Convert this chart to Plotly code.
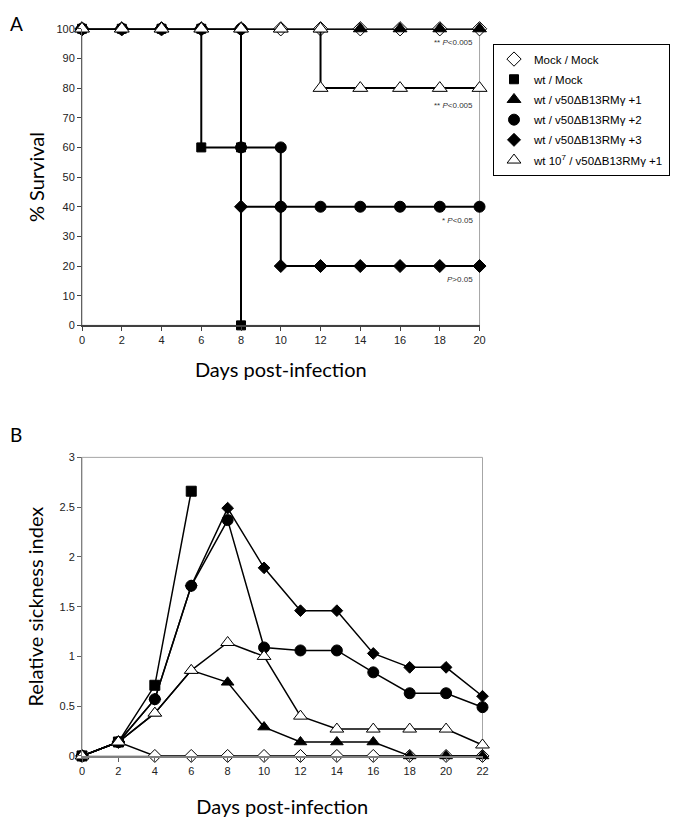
import plotly.graph_objects as go

# ---------------- data ----------------
series_names = [
    "Mock / Mock",
    "wt / Mock",
    "wt / v50ΔB13RMγ +1",
    "wt / v50ΔB13RMγ +2",
    "wt / v50ΔB13RMγ +3",
    "wt 10<sup>7</sup> / v50ΔB13RMγ +1",
]

# Panel A: % survival (step points listed explicitly)
surv_days_mock = [0, 2, 4, 6, 8, 10, 12, 14, 16, 18, 20]
surv_mock = [100, 100, 100, 100, 100, 100, 100, 100, 100, 100, 100]
surv_days_wtmock = [0, 2, 4, 6, 6, 8, 8]
surv_wtmock = [100, 100, 100, 100, 60, 60, 0]
surv_days_p1 = [0, 2, 4, 6, 8, 10, 12, 14, 16, 18, 20]
surv_p1 = [100, 100, 100, 100, 100, 100, 100, 100, 100, 100, 100]
surv_days_p2 = [0, 2, 4, 6, 8, 8, 10, 10, 12, 14, 16, 18, 20]
surv_p2 = [100, 100, 100, 100, 100, 60, 60, 40, 40, 40, 40, 40, 40]
surv_days_p3 = [0, 2, 4, 6, 8, 8, 10, 10, 12, 14, 16, 18, 20]
surv_p3 = [100, 100, 100, 100, 100, 40, 40, 20, 20, 20, 20, 20, 20]
surv_days_hi = [0, 2, 4, 6, 8, 10, 12, 12, 14, 16, 18, 20]
surv_hi = [100, 100, 100, 100, 100, 100, 100, 80, 80, 80, 80, 80]

pvalue_labels = ["** <i>P</i><0.005", "** <i>P</i><0.005", "* <i>P</i><0.05", "<i>P</i>>0.05"]
pvalue_y = [95.3, 74.1, 35.2, 15.6]

# Panel B: relative sickness index
sick_days = [0, 2, 4, 6, 8, 10, 12, 14, 16, 18, 20, 22]
sick_mock = [0, 0.14, 0, 0, 0, 0, 0, 0, 0, 0, 0, 0]
sick_days_wtmock = [0, 2, 4, 6]
sick_wtmock = [0, 0.14, 0.71, 2.66]
sick_p1 = [0, 0.14, 0.43, 0.86, 0.74, 0.29, 0.14, 0.14, 0.14, 0, 0, 0]
sick_p2 = [0, 0.14, 0.57, 1.71, 2.37, 1.09, 1.06, 1.06, 0.84, 0.63, 0.63, 0.49]
sick_p3 = [0, 0.14, 0.57, 1.71, 2.49, 1.89, 1.46, 1.46, 1.03, 0.89, 0.89, 0.60]
sick_hi = [0, 0.14, 0.43, 0.86, 1.14, 1.00, 0.40, 0.27, 0.27, 0.27, 0.27, 0.11]

surv_ticks = [0, 2, 4, 6, 8, 10, 12, 14, 16, 18, 20]
sick_ticks = [0, 2, 4, 6, 8, 10, 12, 14, 16, 18, 20, 22]

# ---------------- styles ----------------
styles = [
    dict(symbol="diamond", color="white", size=11, sizeB=10),
    dict(symbol="square", color="black", size=9, sizeB=10),
    dict(symbol="triangle-up", color="black", size=12, sizeB=11),
    dict(symbol="circle", color="black", size=11, sizeB=11),
    dict(symbol="diamond", color="black", size=10, sizeB=9),
    dict(symbol="triangle-up", color="white", size=13, sizeB=12),
]

surv_data = [
    (surv_days_mock, surv_mock),
    (surv_days_wtmock, surv_wtmock),
    (surv_days_p1, surv_p1),
    (surv_days_p2, surv_p2),
    (surv_days_p3, surv_p3),
    (surv_days_hi, surv_hi),
]
sick_data = [
    (sick_days, sick_mock),
    (sick_days_wtmock, sick_wtmock),
    (sick_days, sick_p1),
    (sick_days, sick_p2),
    (sick_days, sick_p3),
    (sick_days, sick_hi),
]

fig = go.Figure()

for (x, y), st in zip(surv_data, styles):
    fig.add_trace(go.Scatter(
        x=x, y=y, mode="lines+markers", xaxis="x", yaxis="y",
        line=dict(color="black", width=2),
        marker=dict(symbol=st["symbol"], color=st["color"], size=st["size"],
                    line=dict(color="black", width=1)),
        cliponaxis=False, showlegend=False, hoverinfo="skip"))

for (x, y), st in zip(sick_data, styles):
    fig.add_trace(go.Scatter(
        x=x, y=y, mode="lines+markers", xaxis="x2", yaxis="y2",
        line=dict(color="black", width=1.5),
        marker=dict(symbol=st["symbol"], color=st["color"], size=st["sizeB"],
                    line=dict(color="black", width=1)),
        cliponaxis=False, showlegend=False, hoverinfo="skip"))

# legend entries
for i, (name, st) in enumerate(zip(series_names, styles)):
    fig.add_trace(go.Scatter(
        x=[None], y=[None], mode="markers", name=name, xaxis="x", yaxis="y",
        legendgroup=f"g{i}",
        marker=dict(symbol=st["symbol"], color=st["color"], size=min(st["size"], 12),
                    line=dict(color="black", width=1)),
        showlegend=True))

# page body has an 8px margin: figure is sized / positioned to compensate
OFF = 8
W, H = 678 - 2 * OFF, 833 - 2 * OFF


def px_x(p):
    return (p - OFF) / W


def px_y(p):
    return (H - (p - OFF)) / H


tickfont = dict(family="Liberation Sans, Arial", size=11, color="#222222")
titlefont = dict(family="Lato, Open Sans, sans-serif", size=20, color="black")

fig.update_layout(
    width=W, height=H,
    margin=dict(l=0, r=0, t=0, b=0),
    paper_bgcolor="white", plot_bgcolor="white",
    showlegend=True,
    legend=dict(
        x=px_x(497), y=px_y(38), xanchor="left", yanchor="top",
        bgcolor="white", bordercolor="black", borderwidth=1,
        font=dict(family="Liberation Sans, Arial", size=11.5, color="black"),
        tracegroupgap=1.2,
    ),
    xaxis=dict(
        domain=[px_x(80), px_x(483)], range=[0, 20], anchor="y",
        tickmode="array", tickvals=surv_ticks,
        ticks="outside", ticklen=4, tickcolor="#404040", tickwidth=1,
        showline=True, linecolor="#404040", linewidth=1.5,
        showgrid=False, zeroline=False, tickfont=tickfont,
        title=dict(text="Days post-infection", font=titlefont, standoff=18),
    ),
    yaxis=dict(
        domain=[px_y(324), px_y(23)], range=[0, 100], anchor="x",
        dtick=10, ticks="outside", ticklen=4, tickcolor="#404040", tickwidth=1,
        showline=True, linecolor="#606060", linewidth=1,
        showgrid=False, zeroline=False, tickfont=tickfont,
        title=dict(text="% Survival", font=titlefont, standoff=6),
    ),
    xaxis2=dict(
        domain=[px_x(80), px_x(486)], range=[0, 22], anchor="y2",
        tickmode="array", tickvals=sick_ticks,
        ticks="outside", ticklen=4, tickcolor="#606060", tickwidth=1,
        showline=True, linecolor="#808080", linewidth=1.5,
        showgrid=False, zeroline=False, tickfont=tickfont,
        title=dict(text="Days post-infection", font=titlefont, standoff=24),
    ),
    yaxis2=dict(
        domain=[px_y(761), px_y(458)], range=[0, 3], anchor="x2",
        dtick=0.5, ticks="outside", ticklen=4, tickcolor="#606060", tickwidth=1,
        showline=True, linecolor="#808080", linewidth=1,
        showgrid=False, zeroline=False, tickfont=tickfont,
        title=dict(text="Relative sickness index", font=titlefont, standoff=10),
    ),
)

# plot-area borders (grey)
for xr, yr in (("x", "y"), ("x2", "y2")):
    fig.add_shape(type="rect", xref=f"{xr} domain", yref=f"{yr} domain",
                  x0=0, x1=1, y0=0, y1=1, line=dict(color="#a6a6a6", width=1),
                  layer="below")

# p-value notes
for txt, yv in zip(pvalue_labels, pvalue_y):
    fig.add_annotation(x=20, y=yv, xref="x", yref="y", text=txt, showarrow=False,
                       xanchor="right", yanchor="middle", xshift=-5,
                       font=dict(family="Liberation Sans, Arial", size=8, color="#333333"))

# panel letters
fig.add_annotation(x=px_x(14), y=px_y(18), xref="paper", yref="paper", text="A",
                   showarrow=False, xanchor="center", yanchor="middle",
                   font=dict(family="Lato, Open Sans, sans-serif", size=19, color="black"))
fig.add_annotation(x=px_x(13), y=px_y(435), xref="paper", yref="paper", text="B",
                   showarrow=False, xanchor="center", yanchor="middle",
                   font=dict(family="Lato, Open Sans, sans-serif", size=19, color="black"))

fig.write_html("out.html")
